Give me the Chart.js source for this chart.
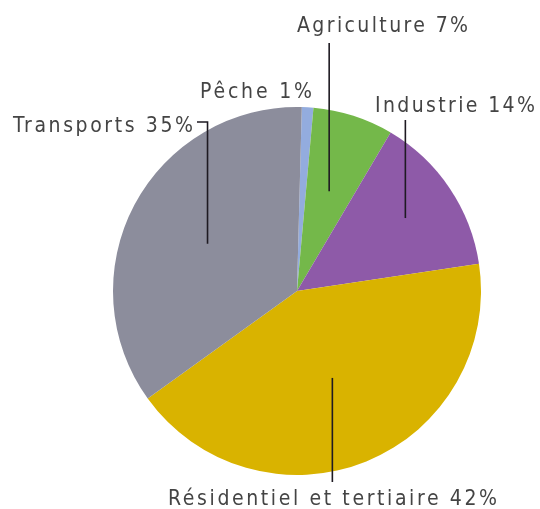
<!DOCTYPE html>
<html>
<head>
<meta charset="utf-8">
<script src="https://cdn.jsdelivr.net/npm/chart.js@4/dist/chart.umd.min.js"></script>
<style>
  html, body { margin: 0; padding: 0; background: #ffffff; }
  #wrap { width: 540px; height: 509px; position: relative; }
</style>
</head>
<body>
<div id="wrap"><canvas id="pie" width="540" height="509"></canvas></div>
<script>
// Energy consumption by sector (%)
const categories = ['Pêche', 'Agriculture', 'Industrie', 'Résidentiel et tertiaire', 'Transports'];
const shares = [1, 7, 14, 42, 35];
const sliceColors = ['#93acde', '#74b84a', '#8e5aa8', '#d9b300', '#8c8d9c'];

// Label placement: baseline position, text width, and leader-line settings
// (radius fraction of the line end inside the slice, hook = short horizontal tick)
const labelLayout = [
  { x: 200, y: 98,  w: 112, leader: null },
  { x: 297, y: 32,  w: 171, leader: { r: 0.57, top: 43 } },
  { x: 375, y: 112, w: 160, leader: { r: 0.71, top: 120 } },
  { x: 168, y: 505, w: 329, leader: { r: 0.51, top: 482 } },
  { x: 13,  y: 132, w: 180, leader: { r: 0.55, top: 122, hookFrom: 197 } }
];

const labelFont = '21px "DejaVu Sans Condensed", "DejaVu Sans", sans-serif';

const sectorLabels = {
  id: 'sectorLabels',
  afterDatasetsDraw(chart) {
    const ctx = chart.ctx;
    const arcs = chart.getDatasetMeta(0).data;
    ctx.save();
    ctx.font = labelFont;
    ctx.textBaseline = 'alphabetic';
    ctx.fillStyle = '#444444';
    categories.forEach((name, i) => {
      const text = name + ' ' + shares[i] + '%';
      const L = labelLayout[i];
      // spread the letters so the label spans its set width
      ctx.letterSpacing = '0px';
      const natural = ctx.measureText(text).width;
      const spacing = Math.max(0, (L.w - natural) / (text.length - 1));
      ctx.letterSpacing = spacing.toFixed(2) + 'px';
      ctx.textAlign = 'left';
      ctx.fillText(text, L.x, L.y);

      if (L.leader) {
        const a = arcs[i];
        const mid = (a.startAngle + a.endAngle) / 2;
        const r = a.outerRadius * L.leader.r;
        const ex = a.x + Math.cos(mid) * r;
        const ey = a.y + Math.sin(mid) * r;
        ctx.beginPath();
        ctx.strokeStyle = '#1e1a22';
        ctx.lineWidth = 1.6;
        if (L.leader.hookFrom !== undefined) {
          ctx.moveTo(L.leader.hookFrom, L.leader.top);
          ctx.lineTo(ex, L.leader.top);
        } else {
          ctx.moveTo(ex, L.leader.top);
        }
        ctx.lineTo(ex, ey);
        ctx.stroke();
      }
    });
    ctx.restore();
  }
};

new Chart(document.getElementById('pie'), {
  type: 'pie',
  data: {
    labels: categories,
    datasets: [{
      data: shares,
      backgroundColor: sliceColors,
      borderWidth: 0,
      hoverOffset: 0
    }]
  },
  options: {
    responsive: false,
    animation: false,
    rotation: 1.5,
    layout: { padding: { left: 113, right: 59, top: 107, bottom: 34 } },
    plugins: {
      legend: { display: false },
      tooltip: { enabled: false }
    }
  },
  plugins: [sectorLabels]
});
</script>
</body>
</html>
